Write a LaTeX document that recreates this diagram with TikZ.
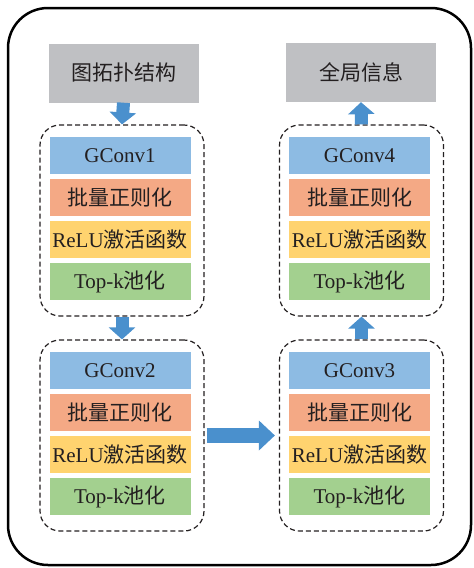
\documentclass[tikz,border=0pt]{standalone}
\usepackage{fontspec}
\setmainfont{Liberation Serif}
\newfontfamily\cjk{Noto Sans CJK SC}
\usepackage{tikz}
\usetikzlibrary{arrows.meta}
\definecolor{convblue}{HTML}{8DBBE3}
\definecolor{normorange}{HTML}{F4A985}
\definecolor{reluyellow}{HTML}{FFD36F}
\definecolor{poolgreen}{HTML}{A3D08F}
\definecolor{endgray}{HTML}{BFC0C3}
\definecolor{flowblue}{HTML}{4A90CD}
\definecolor{inkgray}{HTML}{231F20}
\newcommand{\zh}[1]{{\cjk #1}}

\begin{document}
\begin{tikzpicture}[x=1pt,y=-1pt,font=\fontsize{21}{25}\selectfont,
    layer/.style={minimum width=141pt,minimum height=37pt,inner sep=0pt,text=inkgray},
    block/.style={draw=inkgray,line width=1.2pt,dash pattern=on 5pt off 3pt,rounded corners=20pt,minimum width=164pt,minimum height=191pt,inner sep=0pt},
    io/.style={fill=endgray,minimum width=150pt,minimum height=59pt,inner sep=0pt,text=inkgray},
    flow/.style={line width=13pt,draw=flowblue,-{Triangle[width=26pt 0,length=12pt 0]}},
    sideflow/.style={line width=15pt,draw=flowblue,-{Triangle[width=29pt 0,length=16pt 0]}}]
      \useasboundingbox (0, 0) rectangle (474, 568);
      \draw[line width=2.5pt,rounded corners=40pt] (8, 8) rectangle (471, 565);
      % input and output
      \node[io] (graph) at (123.5, 73) {\zh{图拓扑结构}};
      \node[io] (global) at (361, 72.5) {\zh{全局信息}};
      % dashed blocks
      \node[block] (blk1) at (122, 220.5) {};
      \node[block] (blk2) at (122, 435.5) {};
      \node[block] (blk3) at (361.5, 435.5) {};
      \node[block] (blk4) at (361.5, 220.5) {};
      % block 1
      \node[layer,fill=convblue] (conv1) at (120, 155.5) {GConv1};
      \node[layer,fill=normorange] (bn1) at (120, 197.5) {\zh{批量正则化}};
      \node[layer,fill=reluyellow] (relu1) at (120, 239.5) {ReLU\zh{激活函数}};
      \node[layer,fill=poolgreen] (pool1) at (120, 281.5) {Top-k\zh{池化}};
      % block 2
      \node[layer,fill=convblue] (conv2) at (120, 370.5) {GConv2};
      \node[layer,fill=normorange] (bn2) at (120, 412.5) {\zh{批量正则化}};
      \node[layer,fill=reluyellow] (relu2) at (120, 454.5) {ReLU\zh{激活函数}};
      \node[layer,fill=poolgreen] (pool2) at (120, 496.5) {Top-k\zh{池化}};
      % block 3
      \node[layer,fill=convblue] (conv3) at (359.5, 370.5) {GConv3};
      \node[layer,fill=normorange] (bn3) at (359.5, 412.5) {\zh{批量正则化}};
      \node[layer,fill=reluyellow] (relu3) at (359.5, 454.5) {ReLU\zh{激活函数}};
      \node[layer,fill=poolgreen] (pool3) at (359.5, 496.5) {Top-k\zh{池化}};
      % block 4
      \node[layer,fill=convblue] (conv4) at (359.5, 155.5) {GConv4};
      \node[layer,fill=normorange] (bn4) at (359.5, 197.5) {\zh{批量正则化}};
      \node[layer,fill=reluyellow] (relu4) at (359.5, 239.5) {ReLU\zh{激活函数}};
      \node[layer,fill=poolgreen] (pool4) at (359.5, 281.5) {Top-k\zh{池化}};
      % arrows
      \draw[flow] (graph.south) to (blk1.north);
      \draw[flow] (blk1.south) to (blk2.north);
      \draw[sideflow,shorten <=2pt,shorten >=4pt] (blk2.east) to (blk3.west);
      \draw[flow] (blk3.north) to (blk4.south);
      \draw[flow] (blk4.north) to (global.south);
    \end{tikzpicture}
\end{document}
